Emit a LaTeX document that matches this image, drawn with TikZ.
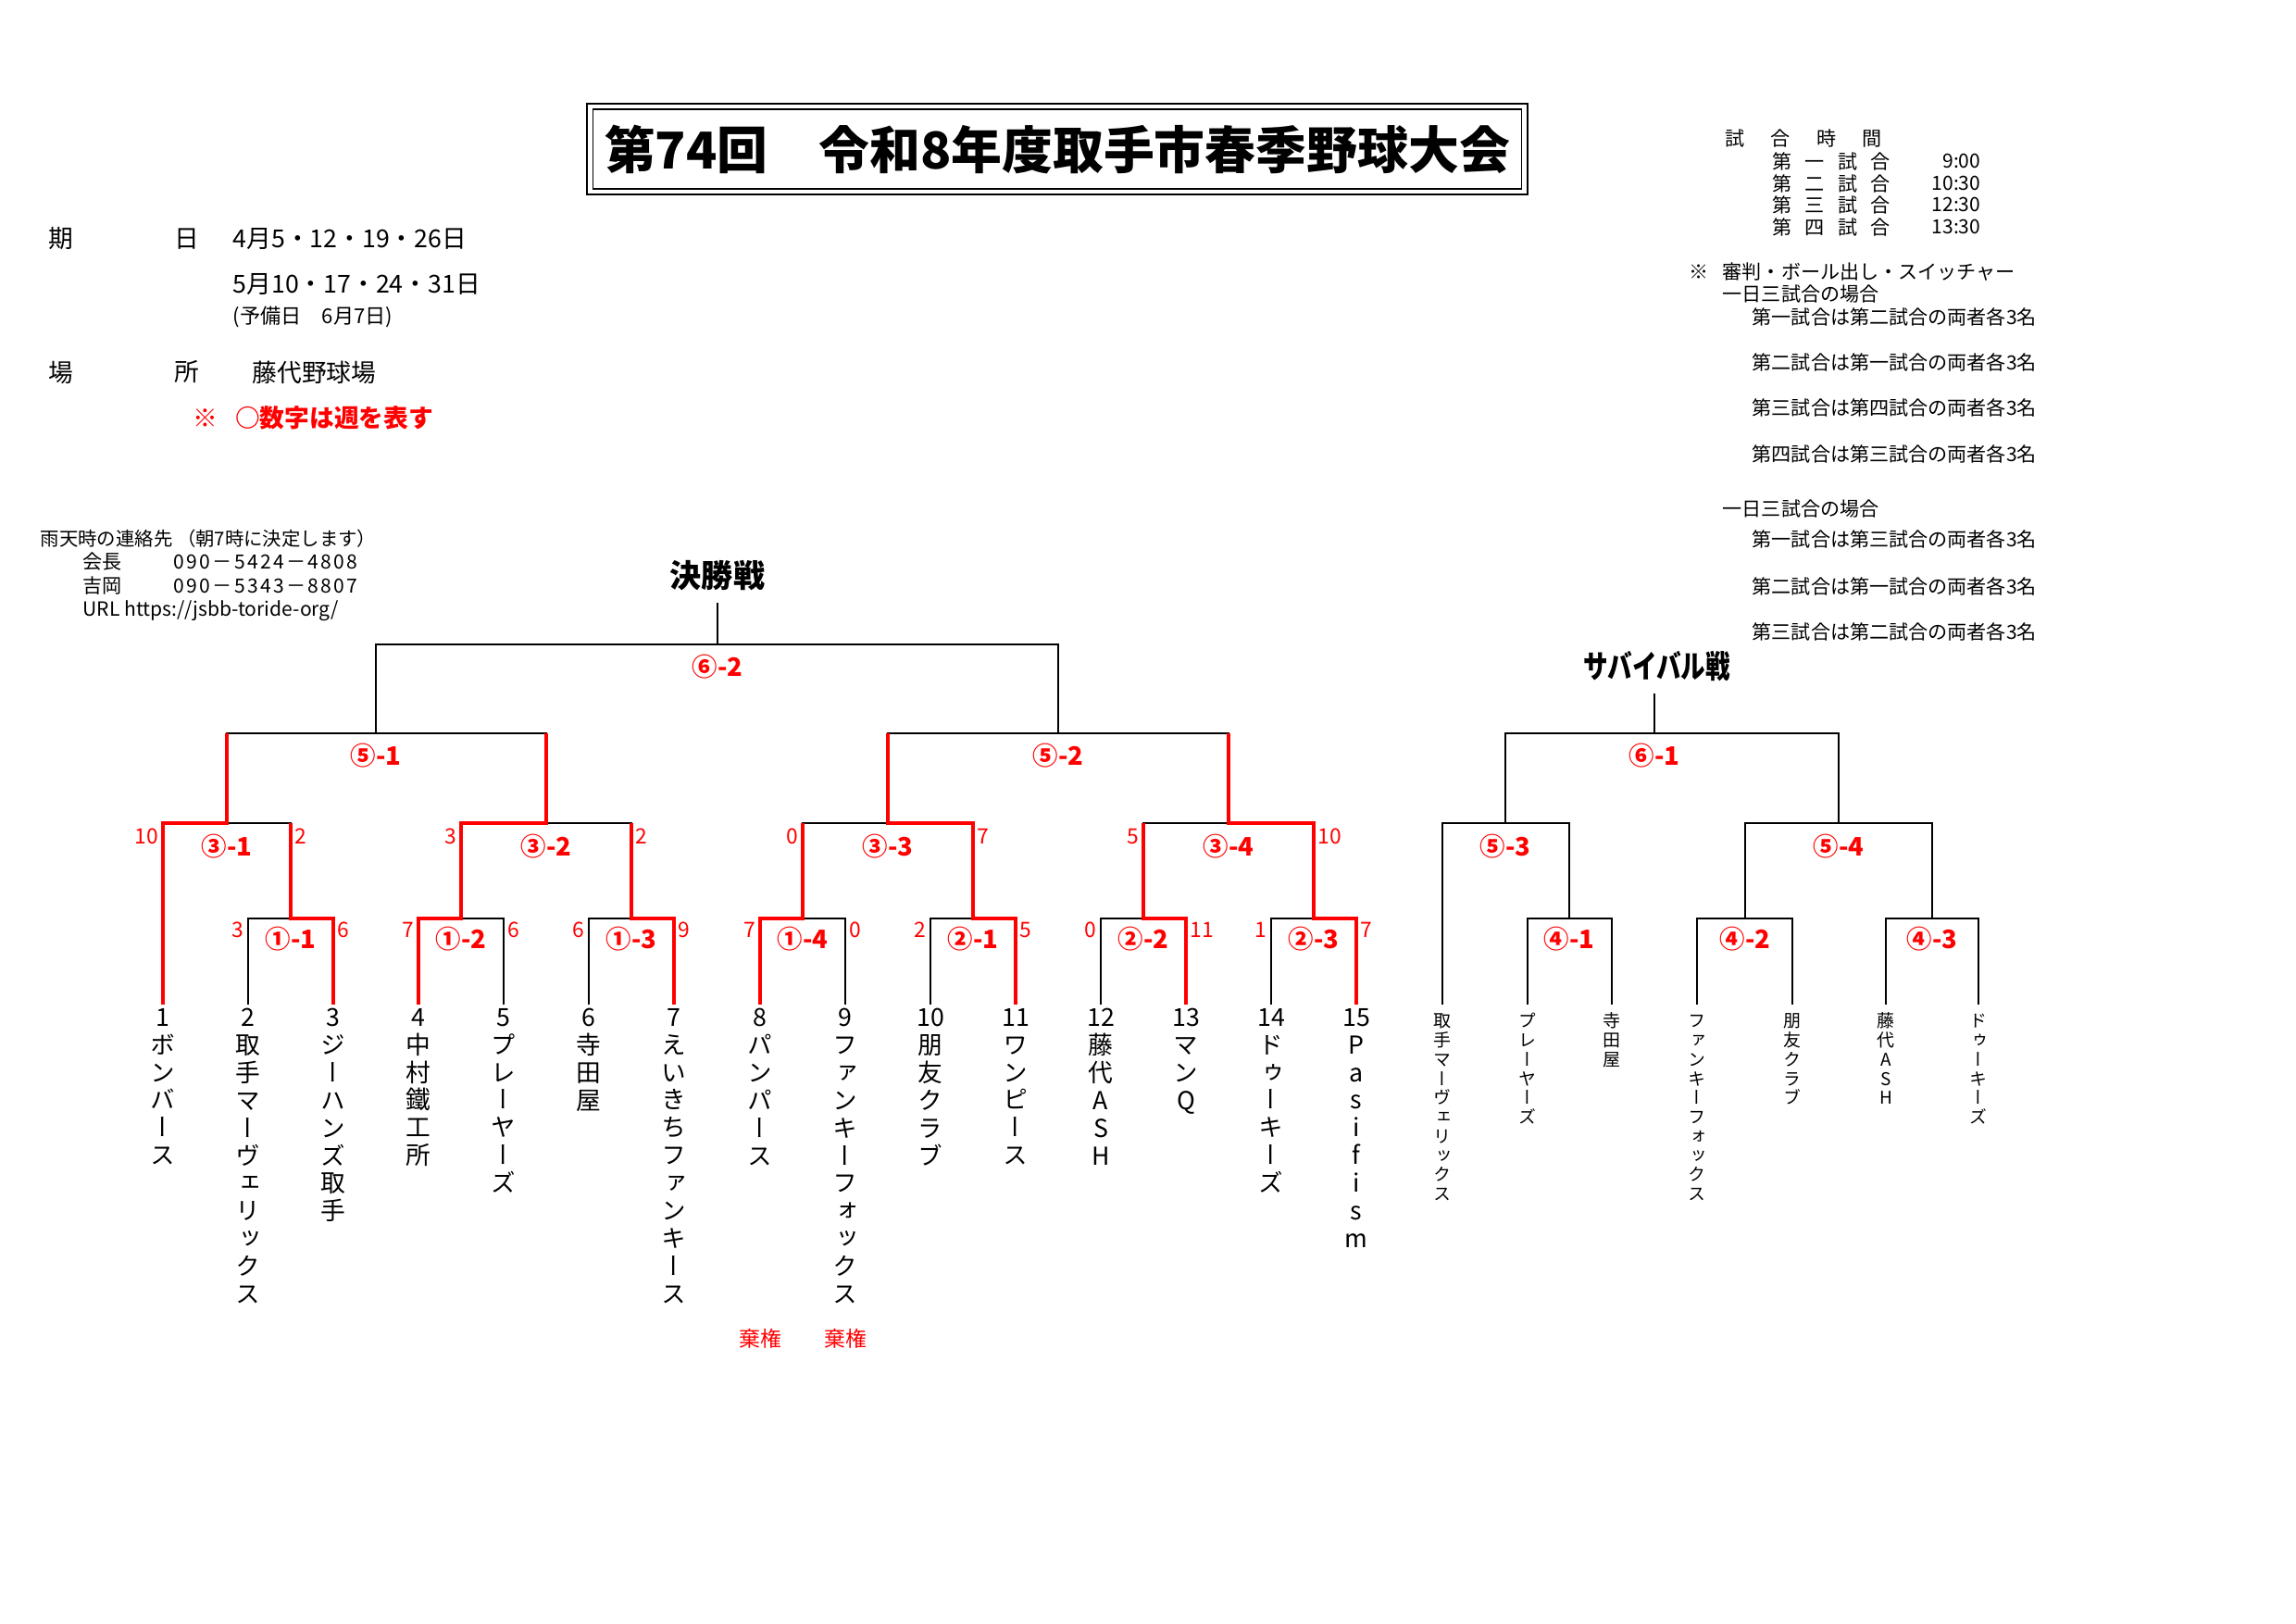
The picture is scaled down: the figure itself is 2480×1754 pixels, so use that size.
\documentclass[tikz,border=0pt]{standalone}
\usepackage{fontspec}
\usepackage{graphicx}
\setmainfont{Noto Sans CJK JP}
\newfontfamily\tatefont[RawFeature=+vert]{Noto Sans CJK JP}
\ExplSyntaxOn
\NewDocumentCommand\tate{m}{\tl_map_inline:nn{#1}{\\##1}}
\ExplSyntaxOff
\begin{document}
\begin{tikzpicture}[x=0.01cm,y=-0.01cm,
bk/.style={line width=0.5pt},
win/.style={red,line width=1.2pt},
team/.style={anchor=north,align=center,inner sep=1pt,font=\tatefont\fontsize{7.6}{8.5}\selectfont},
steam/.style={anchor=north,align=center,inner sep=1pt,font=\tatefont\fontsize{5.4}{5.9}\selectfont},
game/.style={red,inner sep=0pt,font=\bfseries\fontsize{7.8}{8}\selectfont},
score/.style={red,inner sep=0pt,font=\fontsize{6.5}{7}\selectfont},
info/.style={anchor=west,inner sep=0pt,font=\fontsize{7.6}{8}\selectfont},
note/.style={anchor=west,inner sep=0pt,font=\fontsize{6}{7}\selectfont},
head/.style={font=\bfseries\fontsize{9.7}{10}\selectfont}]
\useasboundingbox (0,0) rectangle (2480,1754);

\node[draw,double,double distance=1.4pt,line width=0.5pt,minimum width=10.09cm,minimum height=0.92cm,font=\bfseries\fontsize{15.6}{16}\selectfont](title) at (1142,161){第74回　令和8年度取手市春季野球大会};

\node[info](kiA) at (52,258){期};
\node[info](kiB) at (188,258){日};
\node[info](day1) at (251,258){4月5・12・19・26日};
\node[info](day2) at (251,307){5月10・17・24・31日};
\node[info,font=\fontsize{6.3}{7}\selectfont](day3) at (251,342){(予備日　6月7日)};
\node[info](baA) at (52,402){場};
\node[info](baB) at (188,402){所};
\node[info](ba) at (272,402){藤代野球場};
\node[info,red,font=\bfseries\fontsize{7.6}{8}\selectfont](memo) at (208,451){※\hspace{0.7em}○数字は週を表す};

\node[note,font=\fontsize{5.8}{7}\selectfont](rain) at (43,582){雨天時の連絡先 （朝7時に決定します）};
\node[note](kai) at (89,607){会長};
\node[note,font=\fontsize{6}{7}\selectfont\addfontfeature{LetterSpace=11}](kaiT) at (187,607){090－5424－4808};
\node[note](yo) at (89,633){吉岡};
\node[note,font=\fontsize{6}{7}\selectfont\addfontfeature{LetterSpace=11}](yoT) at (187,633){090－5343－8807};
\node[note](url) at (89,660){URL https://jsbb-toride-org/};

\node[note](jikan) at (1863,149){試\hspace{8pt}合\hspace{8pt}時\hspace{8pt}間};
\node[note](g1) at (1914,174){第\hspace{4pt}一\hspace{4pt}試\hspace{4pt}合};
\node[note](g2) at (1914,198){第\hspace{4pt}二\hspace{4pt}試\hspace{4pt}合};
\node[note](g3) at (1914,221){第\hspace{4pt}三\hspace{4pt}試\hspace{4pt}合};
\node[note](g4) at (1914,245){第\hspace{4pt}四\hspace{4pt}試\hspace{4pt}合};
\node[note,anchor=east](h1) at (2140,174){9:00};
\node[note,anchor=east](h2) at (2140,198){10:30};
\node[note,anchor=east](h3) at (2140,221){12:30};
\node[note,anchor=east](h4) at (2140,245){13:30};

\node[note](kome) at (1824,294){※};
\node[note](shin) at (1860,294){審判・ボール出し・スイッチャー};
\node[note](ichiA) at (1860,318){一日三試合の場合};
\node[note](rA1) at (1892,342){第一試合は第二試合の両者各3名};
\node[note](rA2) at (1892,391){第二試合は第一試合の両者各3名};
\node[note](rA3) at (1892,440){第三試合は第四試合の両者各3名};
\node[note](rA4) at (1892,490){第四試合は第三試合の両者各3名};
\node[note](ichiB) at (1860,550){一日三試合の場合};
\node[note](rB1) at (1892,582){第一試合は第三試合の両者各3名};
\node[note](rB2) at (1892,633){第二試合は第一試合の両者各3名};
\node[note](rB3) at (1892,682){第三試合は第二試合の両者各3名};

% tournament
\node[head](fin) at (775,622){決勝戦};
\node[team](t1) at (176,1085){1\tate{ボンバース}};
\node[team](t2) at (268,1085){2\tate{取手マーヴェリックス}};
\node[team](t3) at (360,1085){3\tate{ジーハンズ取手}};
\node[team](t4) at (452,1085){4\tate{中村鐵工所}};
\node[team](t5) at (544,1085){5\tate{プレーヤーズ}};
\node[team](t6) at (636,1085){6\tate{寺田屋}};
\node[team](t7) at (728,1085){7\tate{えいきちファンキース}};
\node[team](t8) at (821,1085){8\tate{パンパース}};
\node[team](t9) at (913,1085){9\tate{ファンキーフォックス}};
\node[team](t10) at (1005,1085){10\tate{朋友クラブ}};
\node[team](t11) at (1097,1085){11\tate{ワンピース}};
\node[team](t12) at (1189,1085){12\tate{藤代ASH}};
\node[team](t13) at (1281,1085){13\tate{マンQ}};
\node[team](t14) at (1373,1085){14\tate{ドゥーキーズ}};
\node[team](t15) at (1465,1085){15\tate{Pasifism}};
\node[score](kk8) at (821,1446){棄権};
\node[score](kk9) at (913,1446){棄権};

\coordinate(a1) at (314,992);
\coordinate(a2) at (498,992);
\coordinate(a3) at (682,992);
\coordinate(a4) at (867,992);
\coordinate(b1) at (1051,992);
\coordinate(b2) at (1235,992);
\coordinate(b3) at (1419,992);
\coordinate(c1) at (245,889);
\coordinate(c2) at (590,889);
\coordinate(c3) at (959,889);
\coordinate(c4) at (1327,889);
\coordinate(e1) at (406,792);
\coordinate(e2) at (1143,792);
\coordinate(f) at (775,696);

\draw[bk](t2.north)|-(a1)-|(t3.north);
\draw[bk](t4.north)|-(a2)-|(t5.north);
\draw[bk](t6.north)|-(a3)-|(t7.north);
\draw[bk](t8.north)|-(a4)-|(t9.north);
\draw[bk](t10.north)|-(b1)-|(t11.north);
\draw[bk](t12.north)|-(b2)-|(t13.north);
\draw[bk](t14.north)|-(b3)-|(t15.north);
\draw[bk](t1.north)|-(c1)-|(a1);
\draw[bk](a2)|-(c2)-|(a3);
\draw[bk](a4)|-(c3)-|(b1);
\draw[bk](b2)|-(c4)-|(b3);
\draw[bk](c1)|-(e1)-|(c2);
\draw[bk](c3)|-(e2)-|(c4);
\draw[bk](e1)|-(f)-|(e2);
\draw[bk](f)--(f|-fin.south);

\draw[win](t3.north)|-(a1)--(a1|-c1);
\draw[win](t1.north)|-(c1)--(c1|-e1);
\draw[win](t4.north)|-(a2)--(a2|-c2)--(c2)--(c2|-e1);
\draw[win](t7.north)|-(a3)--(a3|-c2);
\draw[win](t8.north)|-(a4)--(a4|-c3);
\draw[win](t11.north)|-(b1)--(b1|-c3)--(c3)--(c3|-e2);
\draw[win](t13.north)|-(b2)--(b2|-c4);
\draw[win](t15.north)|-(b3)--(b3|-c4)--(c4)--(c4|-e2);

\node[game](m62) at (775,720){⑥-2};
\node[game](m51) at (406,816){⑤-1};
\node[game](m52) at (1143,816){⑤-2};
\node[game](m31) at (245,914){③-1};
\node[game](m32) at (590,914){③-2};
\node[game](m33) at (959,914){③-3};
\node[game](m34) at (1327,914){③-4};
\node[game](m11) at (314,1014){①-1};
\node[game](m12) at (498,1014){①-2};
\node[game](m13) at (682,1014){①-3};
\node[game](m14) at (867,1014){①-4};
\node[game](m21) at (1051,1014){②-1};
\node[game](m22) at (1235,1014){②-2};
\node[game](m23) at (1419,1014){②-3};

\node[score,anchor=east](p31l) at (172,903){10};
\node[score,anchor=west](p31r) at (318,903){2};
\node[score,anchor=east](p32l) at (494,903){3};
\node[score,anchor=west](p32r) at (686,903){2};
\node[score,anchor=east](p33l) at (863,903){0};
\node[score,anchor=west](p33r) at (1055,903){7};
\node[score,anchor=east](p34l) at (1231,903){5};
\node[score,anchor=west](p34r) at (1423,903){10};
\node[score,anchor=east](p11l) at (264,1004){3};
\node[score,anchor=west](p11r) at (364,1004){6};
\node[score,anchor=east](p12l) at (448,1004){7};
\node[score,anchor=west](p12r) at (548,1004){6};
\node[score,anchor=east](p13l) at (632,1004){6};
\node[score,anchor=west](p13r) at (732,1004){9};
\node[score,anchor=east](p14l) at (817,1004){7};
\node[score,anchor=west](p14r) at (917,1004){0};
\node[score,anchor=east](p21l) at (1001,1004){2};
\node[score,anchor=west](p21r) at (1101,1004){5};
\node[score,anchor=east](p22l) at (1185,1004){0};
\node[score,anchor=west](p22r) at (1285,1004){11};
\node[score,anchor=east](p23l) at (1369,1004){1};
\node[score,anchor=west](p23r) at (1469,1004){7};

% survival
\node[head](surv) at (1790,720){\scalebox{0.78}[1]{サバイバル戦}};
\node[steam](s1) at (1558,1085){\tate{取手マーヴェリックス}};
\node[steam](s2) at (1650,1085){\tate{プレーヤーズ}};
\node[steam](s3) at (1741,1085){\tate{寺田屋}};
\node[steam](s4) at (1833,1085){\tate{ファンキーフォックス}};
\node[steam](s5) at (1936,1085){\tate{朋友クラブ}};
\node[steam](s6) at (2037,1085){\tate{藤代ASH}};
\node[steam](s7) at (2137,1085){\tate{ドゥーキーズ}};

\coordinate(d1) at (1695,992);
\coordinate(d2) at (1885,992);
\coordinate(d3) at (2087,992);
\coordinate(k3) at (1626,889);
\coordinate(k4) at (1986,889);
\coordinate(z) at (1787,792);

\draw[bk](s2.north)|-(d1)-|(s3.north);
\draw[bk](s4.north)|-(d2)-|(s5.north);
\draw[bk](s6.north)|-(d3)-|(s7.north);
\draw[bk](s1.north)|-(k3)-|(d1);
\draw[bk](d2)|-(k4)-|(d3);
\draw[bk](k3)|-(z)-|(k4);
\draw[bk](z)--(z|-surv.south);

\node[game](m61) at (1787,816){⑥-1};
\node[game](m53) at (1626,914){⑤-3};
\node[game](m54) at (1986,914){⑤-4};
\node[game](m41) at (1695,1014){④-1};
\node[game](m42) at (1885,1014){④-2};
\node[game](m43) at (2087,1014){④-3};
\end{tikzpicture}
\end{document}
